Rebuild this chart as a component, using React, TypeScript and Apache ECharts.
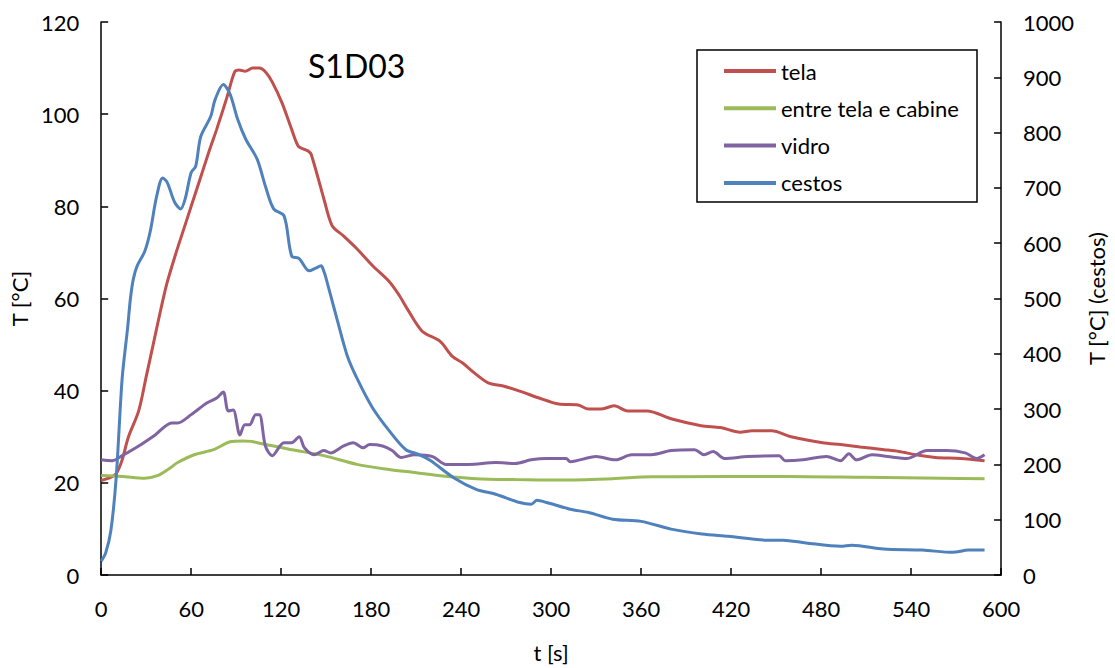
import React, { useEffect, useRef } from "react";
import * as echarts from "echarts";

const xTicks = [0, 60, 120, 180, 240, 300, 360, 420, 480, 540, 600];
const leftTicks = [0, 20, 40, 60, 80, 100, 120];
const rightTicks = [0, 100, 200, 300, 400, 500, 600, 700, 800, 900, 1000];
const seriesNames = ["tela", "entre tela e cabine", "vidro", "cestos"];
const colors = ["#C0504D", "#9BBB59", "#8064A2", "#4F81BD"];

const tela = [
  [0, 20.5], [5, 21], [10, 22], [14, 25], [18, 29.8], [25, 35.6], [30, 43], [36, 52],
  [40, 58], [44, 63.5], [50, 70], [55, 75], [60, 80], [66, 86], [72, 92], [77, 96.7],
  [84, 103.8], [89, 109.2], [92, 109.6], [96, 109.3], [101, 110], [105.5, 110], [110, 109],
  [114, 107], [120.5, 102.5], [127, 96.7], [131.5, 93], [136, 92.3], [138, 92], [140, 91.3],
  [148.5, 81.6], [154, 75.8], [161.5, 73.6], [170.5, 70.8], [181, 67.1], [192, 63.7],
  [198.7, 60.7], [204, 57.8], [214, 52.9], [226, 50.7], [234, 47.5], [241, 46], [249, 43.8],
  [258, 41.7], [268, 41], [279, 39.9], [292, 38.4], [305, 37.1], [318, 36.9], [325, 36],
  [333, 36], [342, 36.7], [351, 35.6], [364, 35.6], [380, 33.9], [400, 32.4], [413, 32],
  [426, 31], [434, 31.3], [447, 31.3], [460, 30], [481, 28.7], [493, 28.3], [506, 27.8],
  [522, 27.2], [532, 26.8], [543, 26.1], [556, 25.5], [573, 25.3], [589, 24.8]
];

const entre = [
  [0, 21.6], [14, 21.4], [29, 21], [38, 21.6], [45, 23], [51, 24.4], [62, 26.1], [75, 27.2],
  [86, 28.9], [94.5, 29.1], [100, 29], [109.5, 28.3], [127, 27.2], [148.5, 25.9], [170.5, 24],
  [192, 22.9], [210, 22.2], [224.6, 21.6], [250, 20.9], [276, 20.7], [307, 20.6], [341, 20.9],
  [367, 21.3], [418, 21.4], [457, 21.4], [509, 21.2], [561, 21], [589, 20.9]
];

const vidro = [
  [0, 25], [7.5, 24.8], [14, 25.9], [25, 28], [36, 30.4], [47, 33], [51, 33], [60, 34.8],
  [70.4, 37.3], [77, 38.4], [81.4, 39.7], [84.7, 35.6], [88, 35.8], [92.5, 30.4], [95.8, 32.6],
  [99, 32.6], [103, 34.8], [105.5, 34.8], [109.5, 28], [114, 25.9], [121.8, 28.7], [127, 28.7],
  [132, 30], [135.5, 27.6], [142, 26.1], [148.5, 27], [153, 26.5], [161.6, 28], [168, 28.7],
  [174.6, 27.6], [179, 28.3], [187.6, 28], [194, 27], [200, 25.5], [209, 26.1], [221, 25.7],
  [230, 24], [245, 24], [263, 24.4], [276, 24.2], [286.7, 25], [297, 25.3], [310, 25.3],
  [312.7, 24.6], [330, 25.7], [343, 25], [353.7, 26.1], [366.8, 26.1], [380, 27], [395.6, 27.2],
  [402, 26.1], [408, 26.8], [415.6, 25.3], [431, 25.7], [452, 25.9], [456, 24.8], [468, 25],
  [483.6, 25.7], [493, 24.8], [498.5, 26.3], [503.6, 25], [514, 26.1], [524.5, 25.7],
  [537.5, 25.3], [550.6, 27], [563.6, 27], [576, 26.5], [583.7, 25.3], [589, 26.1]
];

const cestos = [
  [0, 25], [3, 40], [6.5, 81], [10, 176], [14, 356], [17.6, 446], [19.5, 500], [21.5, 536],
  [24, 559], [29, 585], [32.6, 620], [37, 685], [41, 718], [44, 710], [49, 674], [53, 662],
  [56, 680], [60, 728], [63, 739], [66.4, 793], [73, 829], [76, 860], [81.4, 887], [86, 869],
  [91, 824], [96.4, 788], [104, 752], [109.5, 703], [115, 662], [122, 649], [127, 577],
  [132, 572], [138.7, 550], [143, 555], [146.6, 559], [148.5, 549], [150, 536], [157.6, 459],
  [164, 397], [170.5, 356], [181, 302], [192, 261], [203, 227], [211.7, 218], [219.5, 207],
  [235, 176], [250, 155], [263, 146], [279, 131], [286.7, 128], [290.6, 135], [297, 131],
  [312.7, 119], [325, 113], [341, 101], [360, 97], [380, 83], [400.6, 74], [418, 70],
  [444, 63], [454.6, 63], [470, 58], [493, 52], [500.6, 54], [521.6, 47], [547.5, 45],
  [567.8, 41], [578.4, 45], [589, 45]
];

const FONT = "Lato, 'Noto Sans', sans-serif";
const FS = 22;

export default function App() {
  const ref = useRef<HTMLDivElement>(null);
  useEffect(() => {
    if (!ref.current) return;
    const chart = echarts.init(ref.current, null, { renderer: "svg" });
    const axisLine = { show: true, lineStyle: { color: "#000", width: 1.5 } };
    const axisTick = { show: true, inside: true, length: 7, lineStyle: { color: "#000", width: 1.5 } };
    const dataSets = [tela, entre, vidro, cestos];
    const plain = (v: number) => String(v);
    chart.setOption({
      animation: false,
      textStyle: { fontFamily: FONT },
      grid: { left: 95, right: 101, top: 22, bottom: 90, containLabel: false },
      title: {
        text: "S1D03",
        left: 303,
        top: 44,
        textStyle: { fontFamily: FONT, fontSize: 32, fontWeight: "normal", color: "#000" }
      },
      legend: {
        orient: "vertical",
        left: 719,
        top: 55,
        itemGap: 15.3,
        itemWidth: 52,
        itemHeight: 4,
        icon: "rect",
        data: seriesNames,
        textStyle: { fontFamily: FONT, fontSize: FS, color: "#000", lineHeight: 22 }
      },
      graphic: [
        {
          type: "rect",
          shape: { x: 697, y: 50, width: 280, height: 152 },
          style: { fill: "none", stroke: "#000", lineWidth: 1.5 },
          silent: true
        }
      ],
      xAxis: {
        type: "value",
        min: 0,
        max: 600,
        interval: 60,
        name: "t [s]",
        nameLocation: "middle",
        nameGap: 66,
        nameTextStyle: { fontFamily: FONT, fontSize: FS, color: "#000" },
        axisLine,
        axisTick,
        splitLine: { show: false },
        axisLabel: {
          fontFamily: FONT, fontSize: FS, color: "#000", margin: 22,
          customValues: xTicks, formatter: plain
        }
      },
      yAxis: [
        {
          type: "value",
          min: 0,
          max: 120,
          interval: 20,
          name: "T [°C]",
          nameLocation: "middle",
          nameGap: 66,
          nameTextStyle: { fontFamily: FONT, fontSize: FS, color: "#000" },
          axisLine,
          axisTick,
          splitLine: { show: false },
          axisLabel: { fontFamily: FONT, fontSize: FS, color: "#000", margin: 22, customValues: leftTicks, formatter: plain }
        },
        {
          type: "value",
          min: 0,
          max: 1000,
          interval: 100,
          position: "right",
          name: "T [°C] (cestos)",
          nameLocation: "middle",
          nameGap: 78,
          nameRotate: 90,
          nameTextStyle: { fontFamily: FONT, fontSize: FS, color: "#000" },
          axisLine,
          axisTick,
          splitLine: { show: false },
          axisLabel: { fontFamily: FONT, fontSize: FS, color: "#000", margin: 22, customValues: rightTicks, formatter: plain }
        }
      ],
      series: seriesNames.map((name, i) => ({
        name,
        type: "line",
        yAxisIndex: i === 3 ? 1 : 0,
        data: dataSets[i],
        showSymbol: false,
        symbol: "none",
        smooth: 0.3,
        lineStyle: { color: colors[i], width: 3 },
        itemStyle: { color: colors[i] },
        z: 2 + i
      }))
    });
    return () => chart.dispose();
  }, []);
  return (
    <div
      ref={ref}
      style={{ position: "absolute", left: 0, top: 0, width: 1115, height: 668, background: "#fff" }}
    />
  );
}
